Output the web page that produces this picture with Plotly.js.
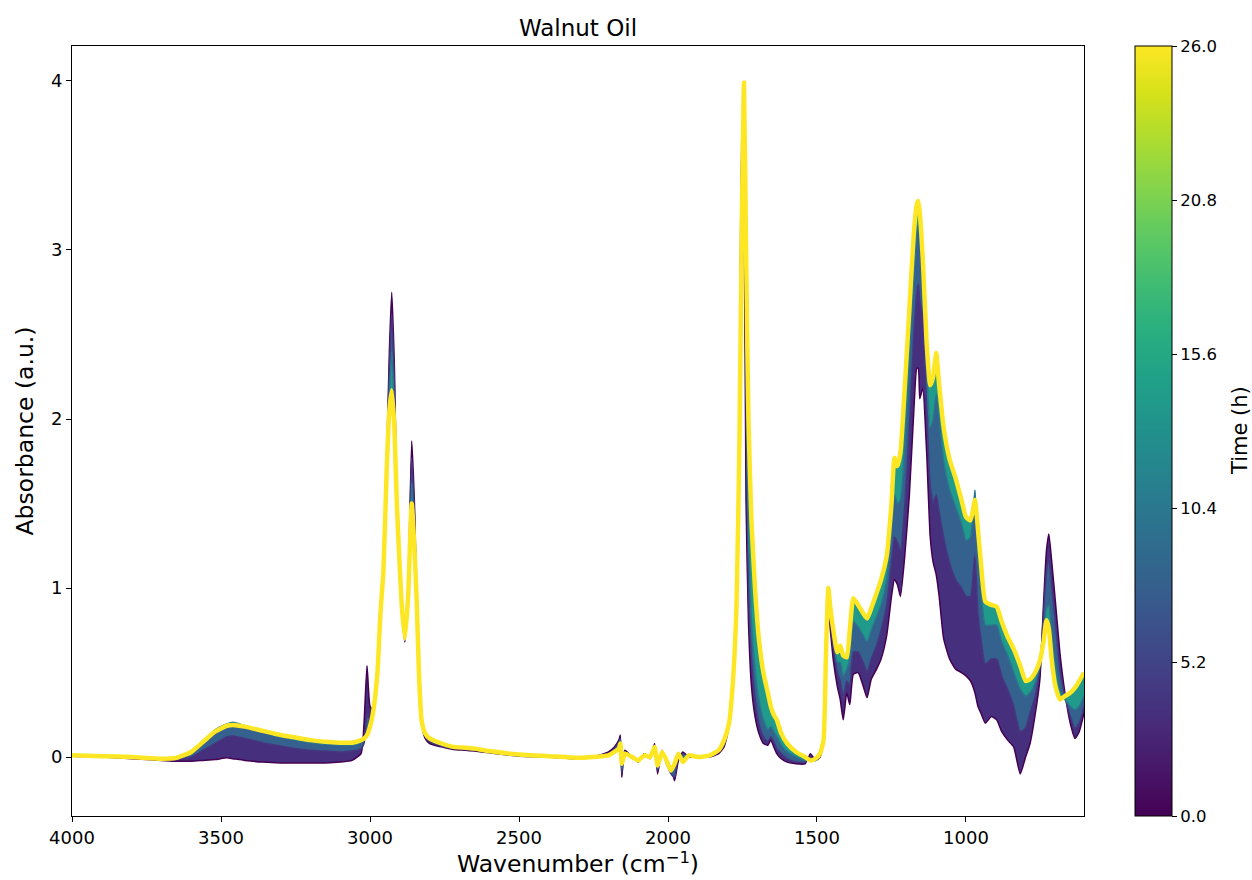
<!DOCTYPE html>
<html>
<head>
<meta charset="utf-8">
<script src="https://cdn.plot.ly/plotly-3.0.1.min.js"></script>
<style>html,body{margin:0;padding:0;background:#fff;}#chart{width:1252px;height:880px;}</style>
</head>
<body>
<div id="chart"></div>
<script>
// ---- data ----
const times = [0, 4, 10, 26];   // hours of the spectra drawn

const wavenumber = [
  4000, 3900, 3800, 3700, 3650, 3600, 3560, 3520, 3480, 3460, 3420, 3360, 3300, 3250, 3200, 3150, 3100, 3060, 3030,
  3020, 3010, 3000, 2990, 2975, 2965, 2955, 2944, 2935, 2927, 2918, 2910, 2894, 2883, 2872, 2860, 2850, 2843, 2836, 2827, 2815, 2800,
  2760, 2720, 2680, 2650, 2600, 2500, 2400, 2300, 2250, 2200, 2180, 2165, 2160, 2155, 2145, 2120, 2100, 2080, 2060, 2045, 2035, 2020, 2005, 1990, 1978, 1965, 1950, 1930, 1900,
  1860, 1830, 1812, 1795, 1782, 1770, 1760, 1752, 1745, 1738, 1730, 1720, 1708, 1695, 1680, 1665, 1655, 1645, 1635, 1620, 1600, 1570, 1540, 1522, 1505, 1490,
  1478, 1470, 1462, 1455, 1445, 1432, 1422, 1412, 1400, 1390, 1378, 1362, 1345, 1332, 1318, 1300,
  1285, 1266, 1250, 1240, 1230, 1220, 1205, 1190, 1175, 1165, 1160, 1155, 1145, 1132, 1120, 1110, 1100, 1090, 1075, 1055, 1035, 1015, 1000, 985, 970, 960, 950,
  935, 915, 897, 880, 860, 840, 818, 800, 785, 768, 752, 740, 730, 722, 712, 700, 685, 668, 650, 634, 620, 604
];

const abs_t0 = [
  0.005, 0.0, -0.01, -0.02, -0.025, -0.025, -0.02, -0.015, -0.005, -0.01, -0.02, -0.03, -0.035, -0.035, -0.035, -0.035, -0.03, -0.02, 0.02,
  0.2, 0.54, 0.3, 0.28, 0.52, 0.88, 1.1, 1.75, 2.4, 2.75, 2.3, 1.55, 0.9, 0.68, 1.0, 1.87, 1.45, 0.9, 0.48, 0.2, 0.11, 0.08,
  0.06, 0.045, 0.04, 0.035, 0.025, 0.005, 0.0, -0.01, 0.0, 0.03, 0.06, 0.1, 0.13, -0.12, 0.04, 0.0, -0.03, 0.02, -0.01, 0.08, -0.1, 0.04, -0.03, -0.06, -0.14, -0.02, 0.03, 0.0, 0.0,
  0.0, 0.02, 0.06, 0.18, 0.42, 1.0, 2.1, 3.75, 3.3, 1.5, 0.8, 0.42, 0.24, 0.14, 0.08, 0.07, 0.1, 0.06, 0.02, -0.01, -0.03, -0.04, -0.04, 0.02, -0.02, 0.0,
  0.08, 0.5, 0.88, 0.75, 0.57, 0.42, 0.34, 0.22, 0.38, 0.31, 0.49, 0.5, 0.42, 0.35, 0.46, 0.52,
  0.58, 0.72, 0.95, 1.05, 1.02, 0.95, 1.2, 1.55, 2.05, 2.3, 2.3, 2.12, 2.18, 1.8, 1.3, 1.15, 1.08, 0.95, 0.7, 0.58, 0.52, 0.5, 0.48, 0.45, 0.38, 0.3, 0.26,
  0.2, 0.24, 0.22, 0.15, 0.1, 0.06, -0.1, 0.0, 0.08, 0.25, 0.46, 0.9, 1.22, 1.32, 1.15, 0.92, 0.62, 0.38, 0.2, 0.11, 0.15, 0.26
];

const abs_t4 = [
  0.01, 0.0, -0.005, -0.015, -0.015, 0.0, 0.04, 0.08, 0.12, 0.125, 0.11, 0.085, 0.065, 0.05, 0.04, 0.035, 0.03, 0.035, 0.05,
  0.08, 0.25, 0.22, 0.27, 0.51, 0.87, 1.1, 1.73, 2.3, 2.62, 2.2, 1.53, 0.9, 0.69, 0.98, 1.77, 1.38, 0.9, 0.49, 0.21, 0.12, 0.09,
  0.065, 0.05, 0.045, 0.04, 0.03, 0.01, 0.0, -0.01, 0.005, 0.02, 0.05, 0.09, 0.11, -0.1, 0.03, -0.01, -0.02, 0.02, 0.0, 0.07, -0.08, 0.035, -0.04, -0.1, -0.12, 0.0, 0.02, 0.005, 0.0,
  0.005, 0.03, 0.07, 0.19, 0.43, 0.95, 2.0, 3.55, 3.6, 2.1, 1.0, 0.58, 0.35, 0.2, 0.12, 0.09, 0.12, 0.09, 0.05, 0.02, -0.01, -0.03, -0.03, 0.0, -0.02, 0.0,
  0.09, 0.55, 0.92, 0.8, 0.64, 0.5, 0.45, 0.35, 0.45, 0.42, 0.62, 0.62, 0.56, 0.5, 0.58, 0.66,
  0.75, 0.9, 1.15, 1.3, 1.27, 1.22, 1.5, 1.95, 2.5, 2.75, 2.8, 2.7, 2.6, 2.05, 1.6, 1.5, 1.55, 1.45, 1.3, 1.15, 1.05, 1.0, 0.95, 0.95, 1.2, 0.85, 0.7,
  0.55, 0.58, 0.58, 0.48, 0.4, 0.3, 0.15, 0.17, 0.26, 0.36, 0.52, 0.85, 1.1, 1.18, 1.0, 0.8, 0.52, 0.36, 0.24, 0.17, 0.2, 0.3
];

const abs_t10 = [
  0.01, 0.005, 0.0, -0.01, -0.005, 0.03, 0.09, 0.16, 0.195, 0.205, 0.185, 0.15, 0.12, 0.1, 0.085, 0.075, 0.07, 0.07, 0.085,
  0.1, 0.14, 0.19, 0.26, 0.5, 0.86, 1.1, 1.71, 2.15, 2.4, 2.05, 1.52, 0.9, 0.7, 0.96, 1.62, 1.3, 0.91, 0.5, 0.22, 0.13, 0.1,
  0.07, 0.055, 0.05, 0.045, 0.03, 0.01, 0.0, -0.005, 0.0, 0.015, 0.04, 0.07, 0.1, -0.07, 0.03, 0.0, -0.02, 0.015, 0.005, 0.065, -0.07, 0.03, -0.03, -0.09, -0.06, 0.01, 0.0, 0.01, 0.0,
  0.01, 0.035, 0.08, 0.2, 0.44, 0.92, 1.95, 3.35, 3.8, 2.4, 1.3, 0.8, 0.52, 0.34, 0.22, 0.16, 0.18, 0.15, 0.12, 0.07, 0.03, 0.0, -0.02, -0.01, -0.02, 0.01,
  0.09, 0.58, 0.96, 0.84, 0.7, 0.56, 0.56, 0.48, 0.52, 0.58, 0.8, 0.77, 0.72, 0.68, 0.75, 0.83,
  0.9, 1.05, 1.33, 1.55, 1.5, 1.52, 1.85, 2.35, 2.85, 3.1, 3.15, 3.05, 2.85, 2.3, 1.95, 2.0, 2.15, 2.0, 1.75, 1.58, 1.48, 1.38, 1.28, 1.3, 1.58, 1.22, 1.0,
  0.78, 0.78, 0.78, 0.68, 0.6, 0.5, 0.4, 0.36, 0.38, 0.44, 0.54, 0.72, 0.88, 0.9, 0.72, 0.55, 0.4, 0.34, 0.3, 0.28, 0.3, 0.36
];

const abs_t26 = [
  0.01, 0.005, 0.0, -0.01, -0.005, 0.03, 0.09, 0.15, 0.185, 0.19, 0.18, 0.155, 0.13, 0.115, 0.1, 0.09, 0.085, 0.085, 0.1,
  0.11, 0.13, 0.18, 0.26, 0.5, 0.85, 1.1, 1.7, 2.05, 2.17, 1.95, 1.5, 0.91, 0.7, 0.95, 1.5, 1.2, 0.91, 0.51, 0.22, 0.14, 0.11,
  0.08, 0.06, 0.055, 0.05, 0.035, 0.015, 0.005, -0.005, 0.0, 0.01, 0.03, 0.05, 0.08, -0.04, 0.02, 0.0, -0.02, 0.01, 0.0, 0.06, -0.05, 0.03, -0.02, -0.08, -0.04, 0.02, -0.03, 0.01, 0.0,
  0.01, 0.04, 0.1, 0.2, 0.45, 0.9, 1.9, 3.2, 3.99, 3.0, 2.0, 1.4, 1.0, 0.7, 0.5, 0.38, 0.3, 0.25, 0.22, 0.14, 0.08, 0.03, 0.0, -0.02, -0.01, 0.02,
  0.1, 0.6, 1.0, 0.88, 0.75, 0.62, 0.66, 0.6, 0.59, 0.75, 0.94, 0.9, 0.85, 0.82, 0.88, 0.97,
  1.05, 1.19, 1.5, 1.77, 1.72, 1.8, 2.2, 2.65, 3.1, 3.27, 3.29, 3.22, 2.95, 2.45, 2.2, 2.25, 2.39, 2.2, 1.95, 1.76, 1.65, 1.52, 1.42, 1.4, 1.52, 1.35, 1.15,
  0.92, 0.9, 0.89, 0.8, 0.71, 0.64, 0.54, 0.45, 0.46, 0.5, 0.57, 0.68, 0.81, 0.76, 0.57, 0.42, 0.34, 0.36, 0.38, 0.41, 0.45, 0.5
];

const spectra = [abs_t0, abs_t4, abs_t10, abs_t26];
const xTicks = [4000, 3500, 3000, 2500, 2000, 1500, 1000];
const yTicks = [0, 1, 2, 3, 4];
const timeTicks = [0, 5.2, 10.4, 15.6, 20.8, 26.0];
const timeTickText = ["0.0", "5.2", "10.4", "15.6", "20.8", "26.0"];
const T_MAX = 26;

// style: colour position used for the filled band below each spectrum
const BAND_SHADE = [null, 3.5, 8, 14];

// ---- viridis colour lookup ----
const VIR = [[0,'#440154'],[0.0627,'#48186a'],[0.1255,'#472d7b'],[0.1882,'#424086'],[0.2510,'#3b528b'],
  [0.3137,'#33638d'],[0.3765,'#2c728e'],[0.4392,'#26828e'],[0.5020,'#21918c'],[0.5647,'#1fa088'],
  [0.6275,'#28ae80'],[0.6902,'#3fbc73'],[0.7529,'#5ec962'],[0.8157,'#84d44b'],[0.8784,'#addc30'],
  [0.9412,'#d8e219'],[1,'#fde725']];
function hex2rgb(h){return [parseInt(h.substr(1,2),16),parseInt(h.substr(3,2),16),parseInt(h.substr(5,2),16)];}
function viridis(f){
  f=Math.max(0,Math.min(1,f));
  for(let i=1;i<VIR.length;i++){
    if(f<=VIR[i][0]){
      const a=VIR[i-1],b=VIR[i];const u=(f-a[0])/(b[0]-a[0]);
      const ca=hex2rgb(a[1]),cb=hex2rgb(b[1]);
      const c=ca.map((v,k)=>Math.round(v+(cb[k]-v)*u));
      return 'rgb('+c.join(',')+')';
    }
  }
  return VIR[VIR.length-1][1];
}

const traces = [];
spectra.forEach((s, i) => {
  const t = times[i];
  const last = i === spectra.length - 1;
  const tr = {
    type: 'scatter', mode: 'lines', x: wavenumber, y: s,
    line: {color: viridis(t / T_MAX), width: last ? 4.5 : 1.5, shape: 'spline', smoothing: 0.5},
    showlegend: false, hoverinfo: 'skip'
  };
  if (i > 0) {
    tr.fill = 'tonexty';
    tr.fillcolor = viridis(BAND_SHADE[i] / T_MAX);
  }
  traces.push(tr);
});

// colour bar
traces.push({
  type: 'scatter', mode: 'markers', x: [null], y: [null], showlegend: false, hoverinfo: 'skip',
  marker: {color: [0], cmin: 0, cmax: T_MAX, colorscale: 'Viridis', showscale: true,
    colorbar: {
      x: 1.0504, xanchor: 'left', xref: 'paper', xpad: 0,
      y: 0.5, yanchor: 'middle', len: 1, lenmode: 'fraction', ypad: 0,
      thickness: 37, thicknessmode: 'pixels',
      outlinewidth: 1, outlinecolor: '#000',
      tickmode: 'array', tickvals: timeTicks, ticktext: timeTickText,
      ticks: 'outside', ticklen: 5, tickcolor: '#000',
      tickfont: {family: 'DejaVu Sans', size: 16.5, color: '#000'}
    }}
});

const layout = {
  width: 1252, height: 880,
  margin: {l: 72, r: 168, t: 46, b: 64},
  paper_bgcolor: '#fff', plot_bgcolor: '#fff',
  font: {family: 'DejaVu Sans', color: '#000'},
  title: {text: 'Walnut Oil', xref: 'paper', x: 0.5, xanchor: 'center', yref: 'container', y: 1 - 28/880, yanchor: 'middle',
    font: {family: 'DejaVu Sans', size: 23, color: '#000'}},
  xaxis: {
    range: [4000, 604], tickmode: 'array', tickvals: xTicks,
    ticks: 'outside', ticklen: 5, tickcolor: '#000', tickwidth: 1,
    showline: true, linecolor: '#000', linewidth: 1, mirror: true,
    showgrid: false, zeroline: false,
    tickfont: {family: 'DejaVu Sans', size: 18, color: '#000'},
    title: {text: 'Wavenumber (cm<sup>\u22121</sup>)', font: {family: 'DejaVu Sans', size: 23.5, color: '#000'}, standoff: 4}
  },
  yaxis: {
    range: [-0.349, 4.207], tickmode: 'array', tickvals: yTicks,
    ticks: 'outside', ticklen: 5, tickcolor: '#000', tickwidth: 1,
    showline: true, linecolor: '#000', linewidth: 1, mirror: true,
    showgrid: false, zeroline: false,
    tickfont: {family: 'DejaVu Sans', size: 18, color: '#000'},
    title: {text: 'Absorbance (a.u.)', font: {family: 'DejaVu Sans', size: 23.5, color: '#000'}, standoff: 10}
  },
  annotations: [{
    text: 'Time (h)', textangle: -90, showarrow: false,
    xref: 'paper', yref: 'paper', x: (1240 - 72) / 1012, y: 0.5, xanchor: 'center', yanchor: 'middle',
    font: {family: 'DejaVu Sans', size: 21, color: '#000'}
  }]
};

Plotly.newPlot('chart', traces, layout, {displayModeBar: false, staticPlot: true});
</script>
</body>
</html>
